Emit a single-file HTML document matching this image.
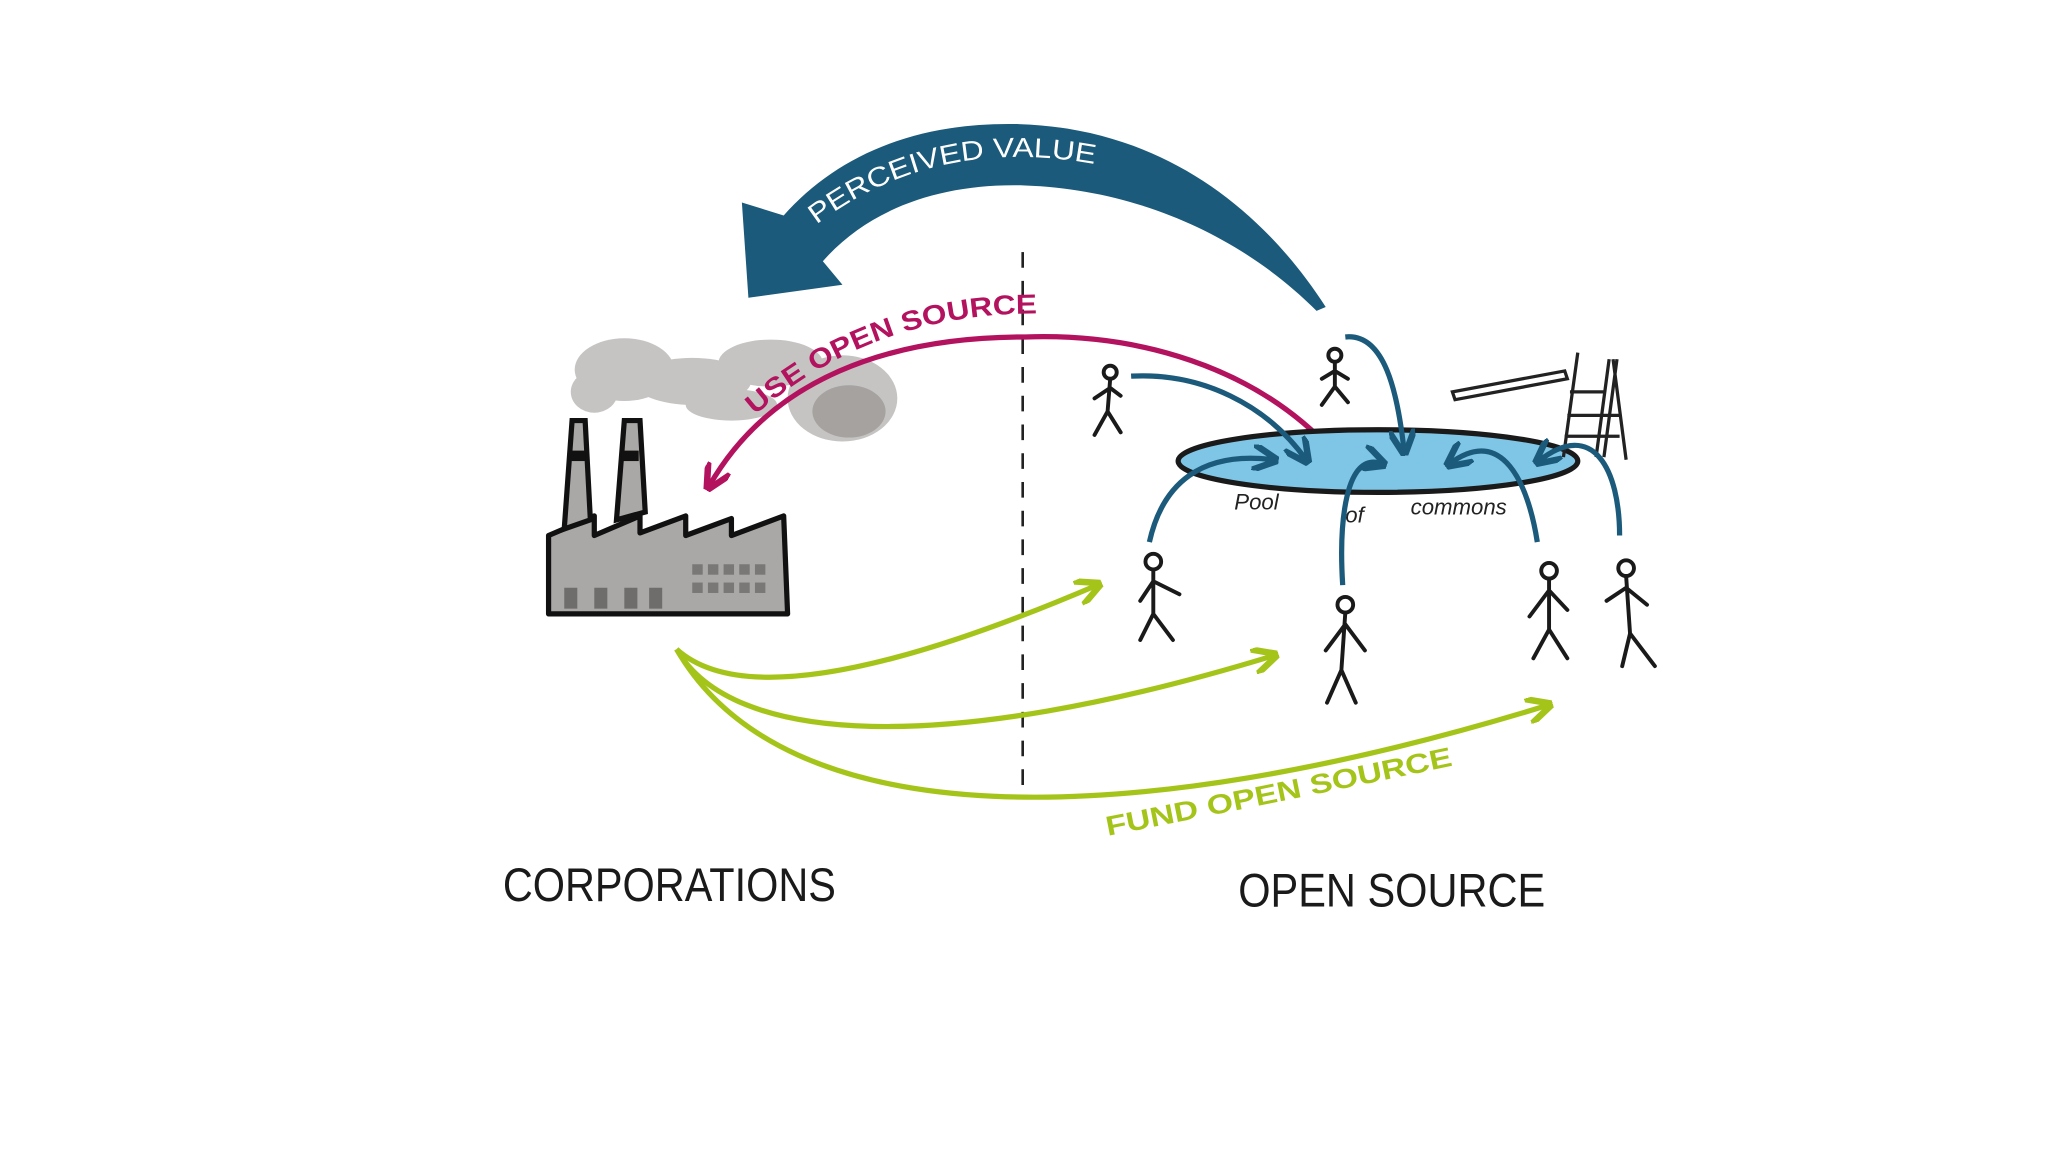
<!DOCTYPE html>
<html><head><meta charset="utf-8"><style>
html,body{margin:0;padding:0;background:#fff;}
svg{display:block;}
text{font-family:"Liberation Sans",sans-serif;}
</style></head><body>
<svg width="2048" height="1152" viewBox="0 0 1568 882" preserveAspectRatio="none" xmlns="http://www.w3.org/2000/svg">
<defs>
<marker id="mb" viewBox="0 0 10 10" refX="8" refY="5" markerWidth="5" markerHeight="5" orient="auto"><path d="M0,0 L10,5 L0,10" fill="none" stroke="#1b5a7a" stroke-width="2.5"/></marker>
<marker id="mm" viewBox="0 0 10 10" refX="8" refY="5" markerWidth="5" markerHeight="5" orient="auto"><path d="M0,0 L10,5 L0,10" fill="none" stroke="#b3125f" stroke-width="2.5"/></marker>
<marker id="mg" viewBox="0 0 10 10" refX="8" refY="5" markerWidth="5" markerHeight="5" orient="auto"><path d="M0,0 L10,5 L0,10" fill="none" stroke="#a5c41a" stroke-width="2.5"/></marker>
<path id="pv" d="M625,172 Q720,100 850,128"/>
<path id="uo" d="M578,318 Q670,238 800,240"/>
<path id="fo" d="M848,640 Q1000,610 1118,585"/>
</defs>
<rect width="1568" height="882" fill="#fff"/>
<!-- big arrow -->
<path d="M1015,235 C960,150 880,98 780,95 C700,93 640,120 600,165 L568,155 L573,228 L645,218 L630,200 C665,160 720,140 785,142 C870,145 950,180 1008,238 Z" fill="#1b5a7a"/>
<text font-size="21" fill="#fff"><textPath href="#pv" textLength="225" lengthAdjust="spacingAndGlyphs">PERCEIVED VALUE</textPath></text>
<!-- dashed line -->
<line x1="783" y1="193" x2="783" y2="602" stroke="#222" stroke-width="2" stroke-dasharray="12,10"/>
<!-- smoke -->
<g fill="#a09d9a" opacity="0.6">
<ellipse cx="478" cy="283" rx="38" ry="24"/><ellipse cx="530" cy="292" rx="45" ry="18"/><ellipse cx="590" cy="278" rx="40" ry="18"/><ellipse cx="645" cy="305" rx="42" ry="33"/><ellipse cx="455" cy="300" rx="18" ry="16"/><ellipse cx="560" cy="310" rx="35" ry="12"/>
</g>
<ellipse cx="650" cy="315" rx="28" ry="20" fill="#8f8c88" opacity="0.6"/>
<!-- factory -->
<path d="M420,470 L420,410 L455,395 L455,410 L490,395 L490,408 L525,395 L525,410 L560,397 L560,410 L600,395 L603,470 Z" fill="#aaa8a6" stroke="#111" stroke-width="4" stroke-linejoin="round"/>
<path d="M432,405 L438,322 L448,322 L452,398 Z M472,398 L478,322 L490,322 L494,392 Z" fill="#aaa8a6" stroke="#111" stroke-width="4"/>
<rect x="436" y="345" width="12" height="8" fill="#111"/><rect x="476" y="345" width="13" height="8" fill="#111"/>
<g fill="#6f6d6b"><rect x="432" y="450" width="10" height="16"/><rect x="455" y="450" width="10" height="16"/><rect x="478" y="450" width="10" height="16"/><rect x="497" y="450" width="10" height="16"/>
<g opacity="0.8"><rect x="530" y="432" width="8" height="8"/><rect x="542" y="432" width="8" height="8"/><rect x="554" y="432" width="8" height="8"/><rect x="566" y="432" width="8" height="8"/><rect x="578" y="432" width="8" height="8"/>
<rect x="530" y="446" width="8" height="8"/><rect x="542" y="446" width="8" height="8"/><rect x="554" y="446" width="8" height="8"/><rect x="566" y="446" width="8" height="8"/><rect x="578" y="446" width="8" height="8"/></g></g>
<!-- magenta arrow -->
<path d="M1020,345 C960,280 870,255 785,258 C680,258 590,290 543,372" fill="none" stroke="#b3125f" stroke-width="4" marker-end="url(#mm)"/>
<text font-size="21" font-weight="bold" fill="#b3125f"><textPath href="#uo" textLength="235" lengthAdjust="spacingAndGlyphs">USE OPEN SOURCE</textPath></text>
<!-- pool -->
<ellipse cx="1055" cy="353" rx="153" ry="24" fill="#7fc6e6" stroke="#1a1a1a" stroke-width="4"/>
<text x="945" y="390" font-size="17" fill="#222" font-style="italic">Pool</text>
<text x="1030" y="400" font-size="17" fill="#222" font-style="italic">of</text>
<text x="1080" y="394" font-size="17" fill="#222" font-style="italic">commons</text>
<!-- diving board & ladder -->
<g stroke="#222" stroke-width="2.5" fill="none">
<path d="M1112,300 L1198,284 L1200,290 L1114,306 Z"/>
<path d="M1197,350 L1208,270 M1222,350 L1232,275 M1228,350 L1238,275 M1245,352 L1235,275"/>
<path d="M1202,300 L1228,300 M1200,318 L1240,318 M1198,334 L1240,334"/>
</g>
<!-- stick figures -->
<g stroke="#1a1a1a" stroke-width="3" fill="none" stroke-linecap="round">
<g transform="translate(850,285)"><circle cx="0" cy="0" r="5"/><path d="M0,5 L-2,30 M-12,20 L0,12 L8,18 M-2,30 L-12,48 M-2,30 L8,46"/></g>
<g transform="translate(1022,272)"><circle cx="0" cy="0" r="5"/><path d="M0,5 L0,24 M-10,18 L0,12 L10,18 M0,24 L-10,38 M0,24 L10,36"/></g>
<g transform="translate(883,430)"><circle cx="0" cy="0" r="6"/><path d="M0,6 L0,40 M-10,30 L0,15 L20,25 M0,40 L-10,60 M0,40 L15,60"/></g>
<g transform="translate(1030,463)"><circle cx="0" cy="0" r="6"/><path d="M0,6 L-3,50 M-15,35 L0,15 L15,35 M-3,50 L-14,75 M-3,50 L8,75"/></g>
<g transform="translate(1186,437)"><circle cx="0" cy="0" r="6"/><path d="M0,6 L0,45 M-15,35 L0,15 L14,30 M0,45 L-12,67 M0,45 L14,67"/></g>
<g transform="translate(1245,435)"><circle cx="0" cy="0" r="6"/><path d="M0,6 L3,50 M-15,25 L0,15 L16,28 M3,50 L-3,75 M3,50 L22,75"/></g>
</g>
<!-- blue arrows -->
<g stroke="#1b5a7a" stroke-width="4" fill="none" marker-end="url(#mb)">
<path d="M866,288 C920,285 970,310 1000,352"/>
<path d="M1030,258 C1060,255 1070,300 1075,345"/>
<path d="M880,415 C890,370 920,345 975,352"/>
<path d="M1028,448 C1025,400 1030,345 1058,355"/>
<path d="M1177,415 C1170,370 1150,325 1110,355"/>
<path d="M1240,410 C1240,360 1220,320 1178,353"/>
</g>
<!-- green arrows -->
<g stroke="#a5c41a" stroke-width="4" fill="none" marker-end="url(#mg)">
<path d="M518,497 C560,535 660,525 840,448"/>
<path d="M518,497 C560,570 720,580 975,502"/>
<path d="M518,497 C600,640 860,640 1185,540"/>
</g>
<text font-size="21" font-weight="bold" fill="#a5c41a"><textPath href="#fo" textLength="270" lengthAdjust="spacingAndGlyphs">FUND OPEN SOURCE</textPath></text>
<!-- labels -->
<text x="385" y="690" font-size="36" fill="#1a1a1a" textLength="255" lengthAdjust="spacingAndGlyphs">CORPORATIONS</text>
<text x="948" y="694" font-size="36" fill="#1a1a1a" textLength="235" lengthAdjust="spacingAndGlyphs">OPEN SOURCE</text>
</svg>
</body></html>
